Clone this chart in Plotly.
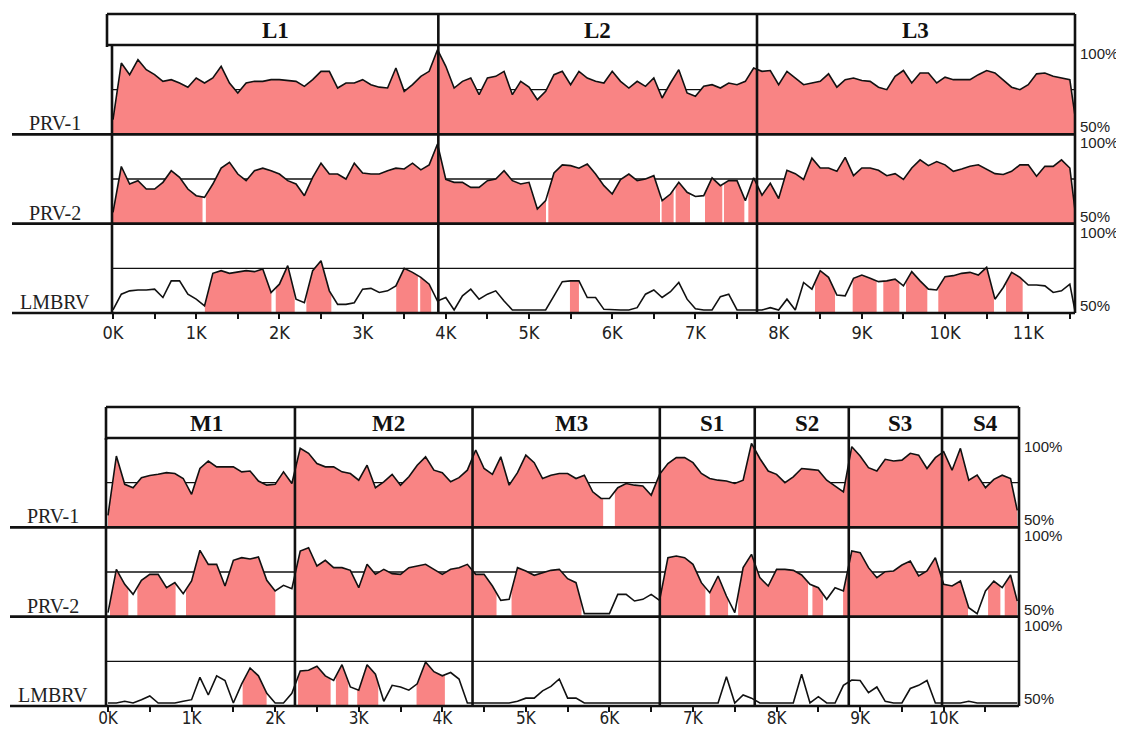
import numpy as np
import plotly.graph_objects as go

# page body has an 8px margin; figure is sized so that it fills the 1124x729 window
OFF = 8
W, H = 1124 - OFF, 729 - OFF

# ---------------- DATA ----------------
# Top panel (L segment), positions in bp
TOP_X = list(range(0, 11600, 100)) + [11560]
TOP_SEGMENTS = ["L1", "L2", "L3"]
TOP_BOUNDS = [0, 3910, 7740, 11560]

TOP_PRV1 = [57, 91, 84, 93, 87, 84, 80, 81, 79, 76.5,
            82, 79, 82, 89, 79, 73, 79, 80, 80, 81,
            81, 80.5, 80, 77, 81, 86, 86, 76, 79, 79,
            81, 78, 76.5, 76, 88, 74, 78, 83, 86, 99,
            89, 76, 80, 82, 72, 82, 83, 86, 72, 80,
            76.5, 69, 74, 84, 86, 78, 86, 82, 80, 79,
            86, 80, 76, 80, 77, 82, 70, 79, 87, 73,
            71, 77, 78, 76, 79, 78, 80, 88,
            86, 86.5, 78, 86, 82, 78, 79, 80, 84.5, 76.5,
            81, 82, 80.5, 80, 76.5, 75, 83, 86.5, 79, 85,
            85, 79, 82.5, 81, 81, 81, 84, 86.5, 85, 81,
            76.5, 75, 78, 84.5, 85, 83, 82, 81, 60]

TOP_PRV2 = [55, 82.5, 72, 74, 69, 69, 73, 80, 76, 69,
            65, 64, 72, 81.5, 85, 78, 74, 80, 81.5, 80,
            78, 74, 72, 65, 76, 84.5, 78, 78, 75, 84.5,
            78.6, 78, 78, 80, 81.5, 81, 84.5, 80.5, 83.5, 96,
            74.7, 73, 73, 70, 70, 74, 75, 80, 74, 72,
            73, 57, 62, 78.6, 83.5, 83, 81.5, 84, 78, 71,
            66, 74.7, 78, 74, 75, 77, 62, 66, 73, 67,
            64.5, 65, 75.7, 71, 74, 74, 62, 75.7,
            65.3, 72.4, 63.3, 80.2, 78.2, 74.7, 87.5, 81.6, 81.6, 79.6,
            88, 77, 81.6, 81.6, 80.2, 77, 78.2, 74.7, 81.6, 86.5,
            83, 85.5, 83.5, 79.6, 81, 82.6, 83.5, 80.6, 78.2, 77.7,
            79.6, 83.5, 83.5, 76.7, 82.6, 82.6, 86.5, 81.6, 57]

TOP_LMBRV = [50, 59.5, 61.5, 62, 62, 62.5, 57.5, 67.5, 67.5, 59.5,
             56.5, 52.5, 72, 73.6, 72, 73, 73.6, 73, 74.6, 60.5,
             65.5, 76.6, 56.5, 54.4, 73.6, 79.6, 61.5, 53.4, 53.4, 54.4,
             62.5, 63, 60.5, 61.5, 64.5, 75, 72.6, 69.6, 65.5, 55.4,
             57.5, 50, 58.5, 62.5, 56.5, 59.5, 61.5, 55.4, 50, 50,
             50, 50.4, 50, 58.5, 67, 67.5, 67.5, 57.5, 57.5, 50.4,
             50, 50, 50, 51.4, 59.5, 62, 57.5, 61, 66.5, 56.5,
             50.8, 50, 50, 58, 59.5, 50, 50, 50,
             50, 51.4, 50, 56.5, 50, 66.5, 62.5, 73.6, 69.6, 59,
             58.5, 69, 71, 69, 67, 67.5, 68.5, 64.5, 73, 67.5,
             62.5, 62, 70, 70.6, 72, 72.6, 71, 75.6, 56.5, 63.5,
             72.6, 69.6, 65, 65, 64.5, 60.5, 61.5, 65.5, 50]

TOP_FILL_PRV1 = [(0, 11560)]
TOP_FILL_PRV2 = [(0, 1076), (1116, 5204), (5232, 6574), (6594, 6738), (6762, 6935),
                 (7115, 7323), (7343, 7588), (7636, 11560)]
TOP_FILL_LMBRV = [(1104, 1904), (1956, 2184), (2324, 2624), (3404, 3664), (3692, 3824),
                  (5492, 5600), (8437, 8678), (8890, 9178), (9258, 9451), (9531, 9787),
                  (9919, 10588), (10733, 10933)]

TOP_TICKVALS = list(range(0, 11600, 500))
TOP_TICKTEXT = ["0K", "", "1K", "", "2K", "", "3K", "", "4K", "", "5K", "", "6K", "",
                "7K", "", "8K", "", "9K", "", "10K", "", "11K", ""]

# Bottom panel (M and S segments)
BOT_X = list(range(0, 10900, 100)) + [10880]
BOT_SEGMENTS = ["M1", "M2", "M3", "S1", "S2", "S3", "S4"]
BOT_BOUNDS = [0, 2237, 4362, 6603, 7739, 8864, 9980, 10901]

BOT_PRV1 = [55.4, 91, 74, 72, 78, 79.3, 80, 81, 80.5, 77.5,
            68, 83.5, 88, 84.5, 84.5, 84.5, 81.5, 82, 76, 73.5,
            74, 81.5, 74.5,
            95.6, 92.6, 86.5, 84.5, 84.5, 81.5, 80.5, 76.5, 85.5, 72,
            75.5, 80, 73.5, 78.5, 85.5, 90.5, 82.5, 81, 75.5, 78,
            82.5,
            94.6, 83.5, 80, 90.5, 73.5, 81, 91.5, 87, 77.5, 79.5,
            80.5, 80.5, 77.5, 79.5, 69.5, 65.5, 65.5, 72, 74.5, 73.5,
            73, 67.5,
            80,
            86.5, 90, 90, 87, 80.5, 77.5, 76.5, 76, 74.5, 76.5, 98.6,
            89.5, 82, 80, 75, 78.5, 83.5, 83, 82.5, 76.5, 73, 69.5,
            96.6, 91, 84, 82, 89, 88, 88.5, 92.6, 91.5, 83.5, 90,
            93.6, 82.5, 95.6, 76.5, 79.5, 72, 77, 79.5, 77.5, 58.4]

BOT_PRV2 = [50.6, 76.6, 67.6, 61.6, 70, 73.6, 73.6, 65.6, 68.6, 62,
            69.6, 88, 79.6, 79.6, 66.6, 82, 83.6, 82.8, 84, 70,
            63.6, 67, 65,
            87.6, 89.6, 78.6, 82, 77.6, 77.6, 76, 65.6, 79.6, 73.6,
            76.6, 74, 73.6, 77.6, 78.6, 79.6, 76.6, 73.6, 76.6, 77.6,
            79.6,
            73.6, 73.6, 66.6, 58, 58.6, 77.6, 75.6, 73, 74.6, 76,
            76.6, 71, 68.6, 50, 50, 50, 50, 61.6, 61.6, 57.6,
            58.6, 61.6,
            58,
            83.6, 84.6, 83.6, 79.6, 68.6, 62.6, 72.6, 60.6, 50.6, 77.6, 85.6,
            71.6, 66.6, 76.6, 76.6, 76, 73.2, 67.6, 65.6, 58.6, 65.6, 63.6,
            87.6, 86.6, 77.6, 71.6, 75.2, 75.6, 79.2, 81.6, 72.6, 75.6, 83.6,
            67.6, 66.6, 69.6, 53.6, 50, 63.6, 69.6, 65.6, 73.2, 57.6]

BOT_LMBRV = [50, 50, 51, 50, 52, 54.2, 50, 50, 50, 51,
             52, 65.4, 54.8, 66.3, 63.5, 50, 61.5, 71, 66.3, 55.8,
             50, 50, 55.8,
             69.2, 69.6, 72, 66.3, 63.5, 73, 59.6, 57.7, 73, 67.3,
             51, 60.6, 59.6, 57.7, 61.5, 74.6, 68.8, 66.3, 68.3, 64.4,
             50,
             50, 50, 50, 50, 50, 51, 52.9, 52.9, 57.3, 60,
             64.4, 52.9, 52.9, 50, 50, 50, 50, 50, 50, 50,
             50, 50,
             50,
             50, 50, 50, 50, 50, 50, 50, 65.8, 50, 54.8, 52.9,
             50, 50, 50, 50, 50, 67.3, 50, 53.8, 50, 50, 60.6,
             63.8, 63.5, 56.2, 59.6, 51, 50, 50, 58.7, 60.6, 63.5, 50,
             50, 50, 50, 51, 50, 50, 50, 50, 50, 50]

BOT_FILL_PRV1 = [(0, 5925), (6065, 10880)]
BOT_FILL_PRV2 = [(24, 243), (351, 809), (933, 2002), (2237, 4649), (4829, 5666),
                 (6603, 7149), (7201, 7420), (7540, 8377), (8429, 8557),
                 (8796, 10291), (10531, 10678), (10730, 10880)]
BOT_FILL_LMBRV = [(1611, 1898), (2274, 2664), (2727, 2875), (2982, 3234), (3692, 4031)]

BOT_TICKVALS = list(range(0, 10900, 500))
BOT_TICKTEXT = ["0K", "", "1K", "", "2K", "", "3K", "", "4K", "", "5K", "", "6K", "",
                "7K", "", "8K", "", "9K", "", "10K", ""]

ROW_NAMES = ["PRV-1", "PRV-2", "LMBRV"]
THRESHOLD = 75

# ---------------- STYLE ----------------
FILL = "#F98484"
BLACK = "#111111"
SERIF = "Liberation Serif"
SANS = "Liberation Sans"
NARROW = "Liberation Sans Narrow, DejaVu Sans Condensed, Liberation Sans, sans-serif"
YRANGE = [48.2, 101.8]


def px(x):
    return (x - OFF) / W


def py(y):
    return 1 - (y - OFF) / H


fig = go.Figure()
shapes = []
annotations = []

panels = [
    dict(xs=TOP_X, rows=[TOP_PRV1, TOP_PRV2, TOP_LMBRV],
         fills=[TOP_FILL_PRV1, TOP_FILL_PRV2, TOP_FILL_LMBRV],
         segs=TOP_SEGMENTS, bounds=TOP_BOUNDS,
         left=112, hleft=107, right=1075, htop=14, rtop=45, rbot=313, lineleft=12,
         xrange=[-12, 11562], tickvals=TOP_TICKVALS, ticktext=TOP_TICKTEXT,
         pctx=1078, labx=55, hshift=0, standoff=-2, tsize=18),
    dict(xs=BOT_X, rows=[BOT_PRV1, BOT_PRV2, BOT_LMBRV],
         fills=[BOT_FILL_PRV1, BOT_FILL_PRV2, BOT_FILL_LMBRV],
         segs=BOT_SEGMENTS, bounds=BOT_BOUNDS,
         left=106, hleft=106, right=1019, htop=407, rtop=438, rbot=706, lineleft=10,
         xrange=[-24, 10901], tickvals=BOT_TICKVALS, ticktext=BOT_TICKTEXT,
         pctx=1022, labx=53, hshift=5, standoff=-8, tsize=17),
]

layout_axes = {}
for p, P in enumerate(panels):
    xname = "x" if p == 0 else "x2"
    xkey = "xaxis" if p == 0 else "xaxis2"
    rowh = (P["rbot"] - P["rtop"]) / 3.0
    bottom_y = 3 * p + 3
    layout_axes[xkey] = dict(
        domain=[px(P["left"]), px(P["right"])], range=P["xrange"],
        anchor="y%d" % bottom_y, tickmode="array",
        tickvals=P["tickvals"], ticktext=P["ticktext"],
        ticks="outside", ticklen=5, tickwidth=1.5, tickcolor=BLACK,
        ticklabelstandoff=P["standoff"],
        showgrid=False, zeroline=False, showline=False, automargin=False,
        tickfont=dict(family=NARROW, size=P["tsize"], color="#222222"), fixedrange=True)
    for r in range(3):
        yi = 3 * p + r + 1
        yname = "y" if yi == 1 else "y%d" % yi
        ykey = "yaxis" if yi == 1 else "yaxis%d" % yi
        top = P["rtop"] + r * rowh
        bot = top + rowh
        layout_axes[ykey] = dict(domain=[py(bot), py(top)], range=YRANGE, anchor=xname,
                                 visible=False, automargin=False, fixedrange=True)
        xs = P["xs"]
        ys = P["rows"][r]
        # filled areas (one polygon per interval)
        for a, b in P["fills"][r]:
            seg = [a] + [x for x in xs if a < x < b] + [b]
            segy = [float(v) for v in np.interp(seg, xs, ys)]
            fig.add_trace(go.Scatter(x=seg, y=segy, xaxis=xname, yaxis=yname, mode="none",
                                     fill="tozeroy", fillcolor=FILL,
                                     hoverinfo="skip", showlegend=False))
        fig.add_trace(go.Scatter(x=xs, y=ys, xaxis=xname, yaxis=yname, mode="lines",
                                 line=dict(color=BLACK, width=1.6), hoverinfo="skip",
                                 showlegend=False))
        # threshold line
        shapes.append(dict(type="line", xref="%s domain" % xname, yref=yname,
                           x0=0, x1=1, y0=THRESHOLD, y1=THRESHOLD,
                           line=dict(color=BLACK, width=1.3), layer="below"))
        # row separator (bottom of row) extending to the left
        shapes.append(dict(type="line", xref="paper", yref="paper",
                           x0=px(P["lineleft"]), x1=px(P["right"]), y0=py(bot), y1=py(bot),
                           line=dict(color=BLACK, width=2.6)))
        # row label
        annotations.append(dict(x=px(P["labx"]), y=py(bot - 11), xref="paper", yref="paper",
                                text=ROW_NAMES[r], showarrow=False, xanchor="center",
                                yanchor="middle",
                                font=dict(family=SERIF, size=20, color="#222222")))
        # percentage labels
        annotations.append(dict(x=px(P["pctx"]), y=py(top + 8.5), xref="paper", yref="paper",
                                text="100%", showarrow=False, xanchor="left",
                                yanchor="middle",
                                font=dict(family=SANS, size=15, color="#222222")))
        annotations.append(dict(x=px(P["pctx"]), y=py(bot - 7.5), xref="paper", yref="paper",
                                text="50%", showarrow=False, xanchor="left",
                                yanchor="middle",
                                font=dict(family=SANS, size=15, color="#222222")))

    line = dict(color=BLACK, width=2.6)
    # header box
    shapes.append(dict(type="line", xref="paper", yref="paper", x0=px(P["hleft"]),
                       x1=px(P["right"]), y0=py(P["htop"]), y1=py(P["htop"]), line=line))
    shapes.append(dict(type="line", xref="paper", yref="paper", x0=px(P["hleft"]),
                       x1=px(P["right"]), y0=py(P["rtop"]), y1=py(P["rtop"]), line=line))
    shapes.append(dict(type="line", xref="paper", yref="paper", x0=px(P["hleft"]),
                       x1=px(P["hleft"]), y0=py(P["htop"]), y1=py(P["rtop"] + 2), line=line))
    shapes.append(dict(type="line", xref="paper", yref="paper", x0=px(P["left"]),
                       x1=px(P["left"]), y0=py(P["rtop"]), y1=py(P["rbot"]), line=line))
    shapes.append(dict(type="line", xref="paper", yref="paper", x0=px(P["right"]),
                       x1=px(P["right"]), y0=py(P["htop"]), y1=py(P["rbot"]), line=line))
    # segment boundaries
    for b in P["bounds"][1:-1]:
        shapes.append(dict(type="line", xref=xname, yref="paper", x0=b, x1=b,
                           y0=py(P["htop"]), y1=py(P["rbot"]), line=line))
    # segment headers
    for i, name in enumerate(P["segs"]):
        mid = (P["bounds"][i] + P["bounds"][i + 1]) / 2.0
        annotations.append(dict(x=mid, y=py((P["htop"] + P["rtop"]) / 2.0 + 1), xref=xname,
                                yref="paper", text="<b>%s</b>" % name, showarrow=False,
                                xanchor="center", yanchor="middle", xshift=P["hshift"],
                                font=dict(family=SERIF, size=23, color=BLACK)))

fig.update_layout(
    width=W, height=H, margin=dict(l=0, r=0, t=0, b=0, pad=0, autoexpand=False),
    paper_bgcolor="white", plot_bgcolor="rgba(0,0,0,0)",
    showlegend=False, hovermode=False,
    shapes=shapes, annotations=annotations, **layout_axes)

fig.write_html("out.html", config={"displayModeBar": False})
